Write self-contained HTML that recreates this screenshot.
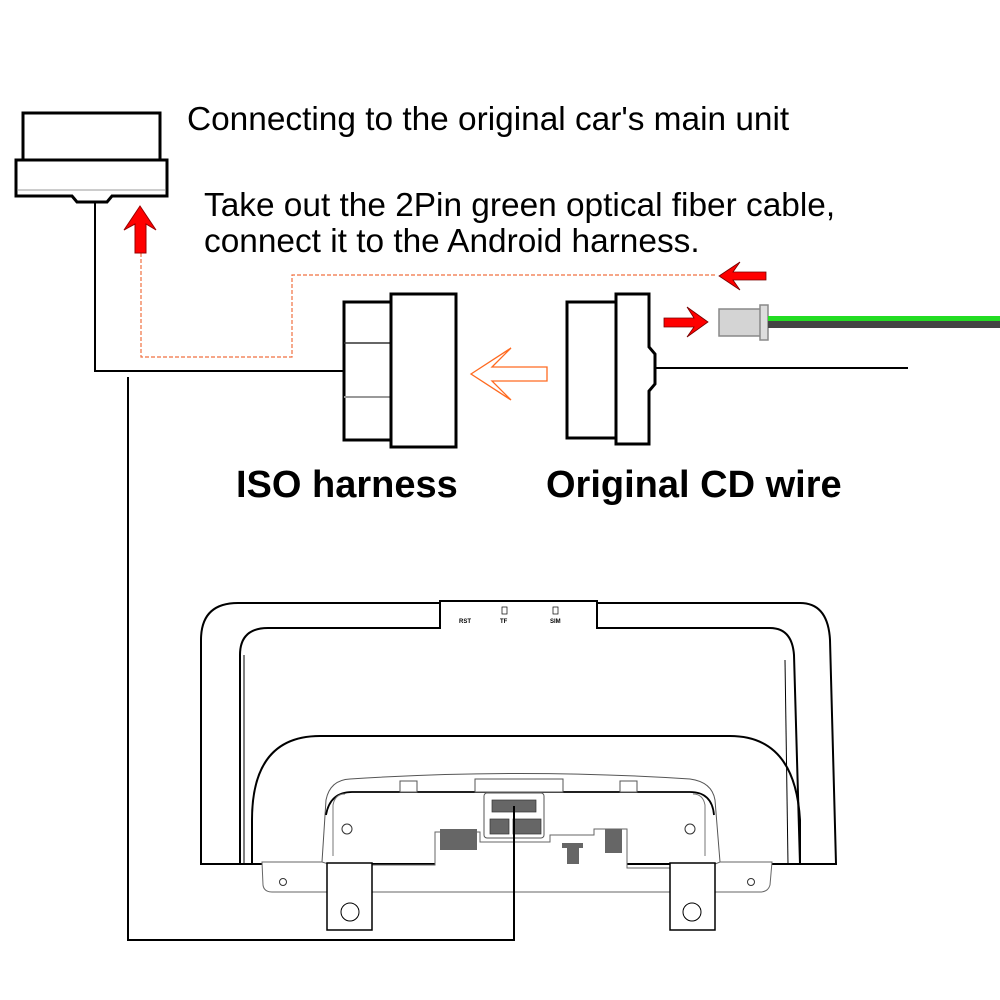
<!DOCTYPE html>
<html><head><meta charset="utf-8"><style>
html,body{margin:0;padding:0;background:#fff;}
svg{display:block}
text{font-family:"Liberation Sans",Arial,sans-serif;}
</style></head><body>
<svg width="1000" height="1000" viewBox="0 0 1000 1000" xmlns="http://www.w3.org/2000/svg">
<rect width="1000" height="1000" fill="#fff"/>
<!-- top-left connector -->
<rect x="23" y="113" width="137" height="47" fill="#fff" stroke="#000" stroke-width="3"/>
<path d="M16 160 H167 V196 H112 L107 202 H77 L72 196 H16 Z" fill="#fff" stroke="#000" stroke-width="3"/>
<path d="M18 190 H165" stroke="#999" stroke-width="1"/>
<!-- wires -->
<polyline points="95,203 95,371 345,371" fill="none" stroke="#000" stroke-width="2"/>
<polyline points="128,377 128,940 514,940 514,806" fill="none" stroke="#000" stroke-width="2"/>
<!-- dashed orange -->
<polyline points="141,253 141,357 292,357 292,275 717,275" fill="none" stroke="#f07040" stroke-width="1.2" stroke-dasharray="4,2"/>
<!-- red up arrow -->
<path d="M140 206 L156 230 L146 224 V253 H135 V224 L124 230 Z" fill="#f00" stroke="#900" stroke-width="1"/>
<!-- texts -->
<text x="187" y="130" font-size="33.4">Connecting to the original car's main unit</text>
<text x="204" y="216" font-size="33.4">Take out the 2Pin green optical fiber cable,</text>
<text x="204" y="252" font-size="33.4">connect it to the Android harness.</text>
<text x="236" y="497" font-size="38" font-weight="bold">ISO harness</text>
<text x="546" y="497" font-size="38" font-weight="bold">Original CD wire</text>
<!-- ISO harness -->
<rect x="344" y="302" width="47" height="138" fill="#fff" stroke="#000" stroke-width="3"/>
<line x1="344" y1="343" x2="390" y2="343" stroke="#333" stroke-width="1.5"/>
<line x1="344" y1="397" x2="390" y2="397" stroke="#999" stroke-width="2"/>
<rect x="391" y="294" width="65" height="153" fill="#fff" stroke="#000" stroke-width="3"/>
<!-- orange hollow arrow -->
<path d="M471 374 L511 348 L492 367 H547 V381 H492 L511 400 Z" fill="#fff" stroke="#ff6a20" stroke-width="1.3"/>
<!-- Original CD -->
<rect x="567" y="302" width="49" height="136" fill="#fff" stroke="#000" stroke-width="3"/>
<path d="M616 294 H649 V347 L655 354 V384 L649 391 V444 H616 Z" fill="#fff" stroke="#000" stroke-width="3"/>
<line x1="656" y1="368" x2="908" y2="368" stroke="#000" stroke-width="2"/>
<!-- red arrows -->
<path d="M719 276 L740 262 L733 272 H766 V280 H733 L740 290 Z" fill="#f00" stroke="#700" stroke-width="0.8"/>
<path d="M708 322 L687 307 L694 318 H664 V327 H694 L687 337 Z" fill="#f00" stroke="#700" stroke-width="0.8"/>
<!-- fiber connector -->
<rect x="719" y="309" width="42" height="27" fill="#d4d4d4" stroke="#888" stroke-width="1.5"/>
<rect x="760" y="305" width="8" height="35" fill="#ddd" stroke="#888" stroke-width="1.5"/>
<rect x="768" y="316" width="232" height="5" fill="#22dd22"/>
<rect x="768" y="321" width="232" height="7" fill="#444"/>
<!-- head unit -->
<path d="M201 864 V640 Q201 603 238 603 H440 V601 H597 V603 H800 Q828 603 830 640 L836 864 Z" fill="#fff" stroke="#000" stroke-width="2"/>
<path d="M240 864 V655 Q240 628 268 628 H440 V601 M597 601 V628 H770 Q792 628 794 655 L800 864" fill="none" stroke="#000" stroke-width="2"/>
<path d="M244 864 V655" fill="none" stroke="#000" stroke-width="1"/>
<path d="M788 864 L785 660" fill="none" stroke="#000" stroke-width="1"/>
<text x="459" y="623" font-size="6" font-weight="bold">RST</text>
<text x="500" y="623" font-size="6" font-weight="bold">TF</text>
<text x="550" y="623" font-size="6" font-weight="bold">SIM</text>
<rect x="502" y="607" width="5" height="7" fill="none" stroke="#000" stroke-width="0.7"/>
<rect x="553" y="607" width="5" height="7" fill="none" stroke="#000" stroke-width="0.7"/>
<!-- inner arch -->
<path d="M252 864 V820 Q252 736 320 736 H730 Q795 736 800 820 V864" fill="none" stroke="#000" stroke-width="2"/>
<!-- lower body -->
<path d="M322 862 L326 800 Q330 780 350 779 Q520 768 690 779 Q712 782 715 800 L720 862" fill="#fff" stroke="#555" stroke-width="1"/>
<path d="M326 815 Q330 792 352 792 H690 Q712 792 714 815" fill="none" stroke="#000" stroke-width="1.8"/>
<rect x="400" y="781" width="17" height="11" fill="#fff" stroke="#555" stroke-width="1"/>
<rect x="475" y="779" width="88" height="13" fill="#fff" stroke="#555" stroke-width="1"/>
<rect x="620" y="781" width="17" height="11" fill="#fff" stroke="#555" stroke-width="1"/>
<path d="M333 856 V805 Q335 794 345 794 M705 856 V805 Q703 794 693 794" fill="none" stroke="#777" stroke-width="1"/>
<path d="M262 862 H322 L335 866 V865 H435 V832 H480 V842 H550 V835 H594 V829 H627 V868 H705 L720 862 H772 L770 885 Q768 892 760 892 H272 Q264 892 263 885 Z" fill="#fff" stroke="#666" stroke-width="1"/>
<rect x="484" y="793" width="60" height="45" rx="3" fill="#fff" stroke="#555" stroke-width="1"/>
<rect x="492" y="800" width="44" height="12" fill="#666" stroke="#333" stroke-width="0.7"/>
<rect x="490" y="819" width="19" height="15" fill="#666" stroke="#333" stroke-width="0.7"/>
<rect x="513" y="819" width="28" height="15" fill="#666" stroke="#333" stroke-width="0.7"/>
<rect x="440" y="829" width="37" height="21" fill="#666"/>
<rect x="605" y="829" width="17" height="24" fill="#666"/>
<rect x="562" y="843" width="21" height="5" fill="#666"/>
<rect x="567" y="848" width="12" height="16" fill="#666"/>
<circle cx="347" cy="829" r="5" fill="#fff" stroke="#333" stroke-width="1"/>
<circle cx="690" cy="829" r="5" fill="#fff" stroke="#333" stroke-width="1"/>
<circle cx="283" cy="882" r="3.5" fill="#fff" stroke="#333" stroke-width="1"/>
<circle cx="751" cy="882" r="3.5" fill="#fff" stroke="#333" stroke-width="1"/>
<!-- tabs -->
<rect x="327" y="863" width="45" height="67" fill="#fff" stroke="#000" stroke-width="1.5"/>
<rect x="670" y="863" width="45" height="67" fill="#fff" stroke="#000" stroke-width="1.5"/>
<ellipse cx="350" cy="912" rx="9" ry="9" fill="#fff" stroke="#000" stroke-width="1"/>
<ellipse cx="692" cy="912" rx="9" ry="9" fill="#fff" stroke="#000" stroke-width="1"/>
<line x1="514" y1="806" x2="514" y2="940" stroke="#000" stroke-width="2"/>
</svg>
</body></html>
